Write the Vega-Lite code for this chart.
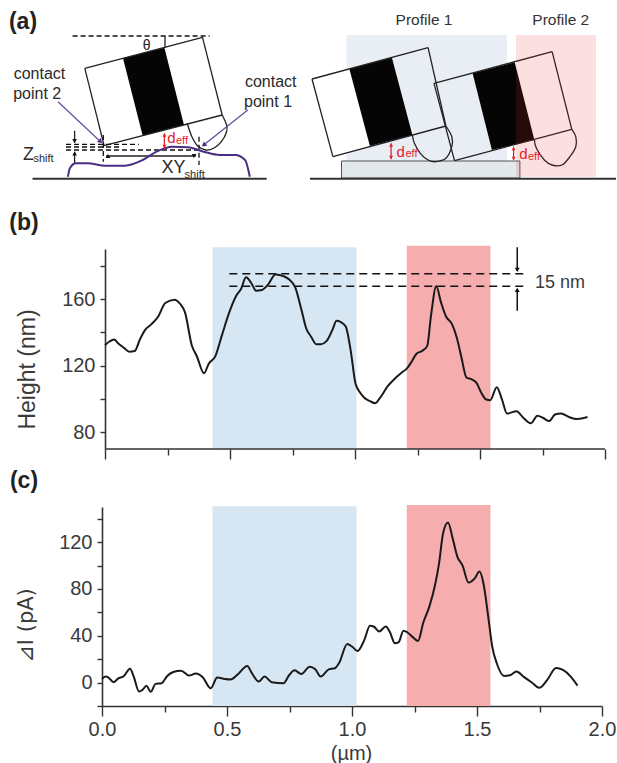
{
"$schema":"https://vega.github.io/schema/vega-lite/v6.json",
"padding":{"left":8,"top":0,"right":0,"bottom":0},
"background":"white",
"config":{"view":{"stroke":null},"font":"Liberation Sans","text":{"font":"Liberation Sans"}},
"bounds":"flush",
"spacing":58,
"datasets":{
"height":[{"x":0,"y":132.3},{"x":0.018,"y":134.5},{"x":0.037,"y":135.7},{"x":0.052,"y":133.5},{"x":0.076,"y":130.7},{"x":0.097,"y":128.4},{"x":0.119,"y":128.8},{"x":0.139,"y":135.5},{"x":0.16,"y":141.3},{"x":0.186,"y":144.9},{"x":0.213,"y":149.5},{"x":0.241,"y":157.6},{"x":0.278,"y":159.6},{"x":0.301,"y":157},{"x":0.32,"y":152},{"x":0.347,"y":132.3},{"x":0.367,"y":125.8},{"x":0.396,"y":115.4},{"x":0.415,"y":121.2},{"x":0.441,"y":125.6},{"x":0.467,"y":137.9},{"x":0.497,"y":152},{"x":0.525,"y":162},{"x":0.544,"y":166},{"x":0.564,"y":173},{"x":0.585,"y":169.6},{"x":0.604,"y":165},{"x":0.627,"y":165.4},{"x":0.651,"y":168.4},{"x":0.682,"y":174.7},{"x":0.714,"y":173.7},{"x":0.737,"y":171.7},{"x":0.761,"y":167},{"x":0.785,"y":154},{"x":0.805,"y":142.3},{"x":0.824,"y":137.5},{"x":0.845,"y":132.9},{"x":0.863,"y":132.9},{"x":0.887,"y":134.9},{"x":0.911,"y":141.9},{"x":0.926,"y":146.9},{"x":0.942,"y":146.3},{"x":0.963,"y":143.5},{"x":0.982,"y":129.8},{"x":1.002,"y":109.3},{"x":1.021,"y":103.7},{"x":1.037,"y":100.7},{"x":1.06,"y":98.7},{"x":1.081,"y":97.5},{"x":1.1,"y":100.7},{"x":1.131,"y":107.7},{"x":1.163,"y":112.8},{"x":1.186,"y":115.8},{"x":1.207,"y":118.2},{"x":1.226,"y":122.2},{"x":1.246,"y":127.2},{"x":1.268,"y":128.8},{"x":1.289,"y":131.9},{"x":1.304,"y":150},{"x":1.325,"y":167.6},{"x":1.344,"y":158},{"x":1.364,"y":149.5},{"x":1.388,"y":144.9},{"x":1.407,"y":136.9},{"x":1.426,"y":124.8},{"x":1.446,"y":112.8},{"x":1.467,"y":111.8},{"x":1.486,"y":109.7},{"x":1.504,"y":104.1},{"x":1.525,"y":99.7},{"x":1.541,"y":99.3},{"x":1.567,"y":107.1},{"x":1.588,"y":99.7},{"x":1.608,"y":91.3},{"x":1.646,"y":92.7},{"x":1.674,"y":88.6},{"x":1.703,"y":85.4},{"x":1.73,"y":90},{"x":1.753,"y":88.6},{"x":1.777,"y":86.8},{"x":1.8,"y":90.7},{"x":1.824,"y":91.3},{"x":1.856,"y":89.2},{"x":1.887,"y":88},{"x":1.911,"y":88.4},{"x":1.93,"y":89.2}],
"current":[{"x":0,"y":3.1},{"x":0.014,"y":5.1},{"x":0.025,"y":4.5},{"x":0.046,"y":0.3},{"x":0.064,"y":3.4},{"x":0.088,"y":5.7},{"x":0.112,"y":11.9},{"x":0.127,"y":5.1},{"x":0.148,"y":-7.7},{"x":0.162,"y":-6.2},{"x":0.178,"y":-2.8},{"x":0.195,"y":-7.9},{"x":0.214,"y":-1.1},{"x":0.238,"y":-0.6},{"x":0.261,"y":5.7},{"x":0.285,"y":9.1},{"x":0.316,"y":10.2},{"x":0.348,"y":6},{"x":0.375,"y":7.7},{"x":0.403,"y":4.5},{"x":0.435,"y":-4.8},{"x":0.461,"y":4.3},{"x":0.49,"y":3.1},{"x":0.513,"y":2.6},{"x":0.545,"y":7.4},{"x":0.581,"y":14.2},{"x":0.6,"y":7.9},{"x":0.627,"y":0.9},{"x":0.65,"y":5.1},{"x":0.679,"y":0.3},{"x":0.726,"y":-0.6},{"x":0.749,"y":6.5},{"x":0.77,"y":10.5},{"x":0.797,"y":7.4},{"x":0.831,"y":13.6},{"x":0.852,"y":11.6},{"x":0.875,"y":5.1},{"x":0.907,"y":11.3},{"x":0.931,"y":12.2},{"x":0.949,"y":17},{"x":0.981,"y":32.9},{"x":1.001,"y":30.6},{"x":1.022,"y":27},{"x":1.049,"y":36.3},{"x":1.072,"y":48.5},{"x":1.088,"y":47.7},{"x":1.109,"y":43.7},{"x":1.135,"y":47.9},{"x":1.151,"y":43.4},{"x":1.172,"y":33.5},{"x":1.186,"y":34.3},{"x":1.206,"y":44.3},{"x":1.222,"y":42.8},{"x":1.246,"y":38.3},{"x":1.264,"y":35.5},{"x":1.285,"y":51.1},{"x":1.309,"y":64.7},{"x":1.332,"y":83.1},{"x":1.348,"y":101.6},{"x":1.364,"y":127.1},{"x":1.384,"y":136.7},{"x":1.403,"y":122.8},{"x":1.422,"y":107.2},{"x":1.442,"y":100.1},{"x":1.466,"y":85.4},{"x":1.49,"y":88.8},{"x":1.51,"y":94.8},{"x":1.526,"y":84.5},{"x":1.545,"y":56.2},{"x":1.561,"y":30.6},{"x":1.579,"y":16.5},{"x":1.608,"y":5.7},{"x":1.631,"y":6.2},{"x":1.658,"y":9.4},{"x":1.686,"y":5.1},{"x":1.718,"y":0.3},{"x":1.749,"y":-4.5},{"x":1.781,"y":2.3},{"x":1.816,"y":12.5},{"x":1.844,"y":10.8},{"x":1.875,"y":5.1},{"x":1.902,"y":-2.6}]
},
"vconcat":[
{
"width":500,"height":191,
"encoding":{
"x":{"field":"x","type":"quantitative","scale":{"domain":[103,603],"nice":false,"zero":false},"axis":null},
"y":{"field":"y","type":"quantitative","scale":{"domain":[191,0],"nice":false,"zero":false},"axis":null}
},
"layer":[
{"data":{"values":[{"x":347.6,"x2":507.9,"y":35,"y2":161}]},"mark":{"type":"rect","color":"#e8eef4"},"encoding":{"x2":{"field":"x2"},"y2":{"field":"y2"}}},
{"data":{"values":[{"x":342.5,"x2":520.9,"y":161,"y2":178}]},"mark":{"type":"rect","fill":"#e3e8ea","stroke":"#555555","strokeWidth":1},"encoding":{"x2":{"field":"x2"},"y2":{"field":"y2"}}},
{"data":{"values":[{"x":313,"y":79,"y2":79},{"x":333.9,"y":73.4,"y2":156.7},{"x":350.4,"y":69,"y2":151.9},{"x":370.9,"y":146,"y2":146}]},"mark":{"type":"area","color":"#ffffff","opacity":1},"encoding":{"y2":{"field":"y2"}}},
{"data":{"values":[{"b":"L","x":124,"y":58.3,"y2":58.3},{"b":"L","x":143.7,"y":53.3,"y2":135.7},{"b":"L","x":165.4,"y":47.7,"y2":130.1},{"b":"L","x":185,"y":125,"y2":125},{"b":"1","x":350.4,"y":69,"y2":69},{"b":"1","x":370.9,"y":63.5,"y2":146},{"b":"1","x":392.9,"y":57.7,"y2":140.3},{"b":"1","x":413.4,"y":135,"y2":135},{"b":"2","x":473.6,"y":73.3,"y2":73.3},{"b":"2","x":492.9,"y":68.3,"y2":150},{"b":"2","x":515.7,"y":62.3,"y2":144.6},{"b":"2","x":535.4,"y":140,"y2":140}]},"mark":{"type":"area","color":"#050505","opacity":1},"encoding":{"y2":{"field":"y2"},"detail":{"field":"b"}}},
{"data":{"values":[
{"x":85.8,"x2":203.5,"y":68.3,"y2":37.3},{"x":203.5,"x2":223.2,"y":37.3,"y2":115},{"x":223.2,"x2":105.1,"y":115,"y2":145.7},{"x":105.1,"x2":85.8,"y":145.7,"y2":68.3},
{"x":313,"x2":429.1,"y":79,"y2":47.7},{"x":429.1,"x2":446.9,"y":47.7,"y2":126},{"x":446.9,"x2":333.9,"y":126,"y2":156.7},{"x":333.9,"x2":313,"y":156.7,"y2":79},
{"x":435,"x2":553.1,"y":83.3,"y2":51.7},{"x":553.1,"x2":572.8,"y":51.7,"y2":129.3},{"x":572.8,"x2":455.5,"y":129.3,"y2":160.7},{"x":455.5,"x2":435,"y":160.7,"y2":83.3},
{"x":166,"x2":166,"y":36,"y2":47.7},
{"x":75.6,"x2":75.6,"y":130.7,"y2":143},{"x":75.6,"x2":75.6,"y":151.7,"y2":163.3},{"x":107,"x2":196.9,"y":156,"y2":156}
]},"mark":{"type":"rule","color":"#222222","strokeWidth":1.3},"encoding":{"x2":{"field":"x2"},"y2":{"field":"y2"}}},
{"data":{"values":[
{"t":"L","i":0,"x":188.2,"y":123.3},{"t":"L","i":1,"x":192.9,"y":136.7},{"t":"L","i":2,"x":198.8,"y":146},{"t":"L","i":3,"x":206.7,"y":150},{"t":"L","i":4,"x":214.6,"y":148.3},{"t":"L","i":5,"x":222.4,"y":141.7},{"t":"L","i":6,"x":227.6,"y":131.7},{"t":"L","i":7,"x":227.6,"y":125},{"t":"L","i":8,"x":223.2,"y":115},
{"t":"1","i":0,"x":413.4,"y":135},{"t":"1","i":1,"x":415.4,"y":143.3},{"t":"1","i":2,"x":421.3,"y":153.3},{"t":"1","i":3,"x":429.1,"y":160},{"t":"1","i":4,"x":437,"y":161.7},{"t":"1","i":5,"x":446.9,"y":158.3},{"t":"1","i":6,"x":452.8,"y":146.7},{"t":"1","i":7,"x":452.8,"y":136.7},{"t":"1","i":8,"x":446.9,"y":126},
{"t":"2","i":0,"x":535.4,"y":140},{"t":"2","i":1,"x":537.4,"y":148.3},{"t":"2","i":2,"x":545.3,"y":160},{"t":"2","i":3,"x":553.1,"y":165},{"t":"2","i":4,"x":563,"y":165},{"t":"2","i":5,"x":570.9,"y":156.7},{"t":"2","i":6,"x":576.8,"y":146.7},{"t":"2","i":7,"x":576.8,"y":136.7},{"t":"2","i":8,"x":572.8,"y":129.3}
]},"mark":{"type":"line","color":"#222222","strokeWidth":1.3,"interpolate":"cardinal"},"encoding":{"detail":{"field":"t"},"order":{"field":"i"}}},
{"data":{"values":[{"x":73.6,"x2":210.6,"y":36,"y2":36},{"x":67,"x2":139.8,"y":144.3,"y2":144.3},{"x":67,"x2":198.8,"y":150,"y2":150},{"x":67,"x2":120,"y":147,"y2":147},{"x":104.3,"x2":104.3,"y":135,"y2":161.7},{"x":200,"x2":200,"y":136.7,"y2":165}]},"mark":{"type":"rule","color":"#111111","strokeWidth":1.3,"strokeDash":[5,3]},"encoding":{"x2":{"field":"x2"},"y2":{"field":"y2"}}},
{"data":{"values":[{"x":33.5,"x2":267.7,"y":178.7,"y2":178.7},{"x":311,"x2":617,"y":178.7,"y2":178.7}]},"mark":{"type":"rule","color":"#333333","strokeWidth":2},"encoding":{"x2":{"field":"x2"},"y2":{"field":"y2"}}},
{"data":{"values":[{"i":0,"x":68.9,"y":176.7},{"i":1,"x":70.9,"y":168.3},{"i":2,"x":76.8,"y":163.3},{"i":3,"x":88.6,"y":163.3},{"i":4,"x":106.3,"y":165.7},{"i":5,"x":126,"y":165.7},{"i":6,"x":143.7,"y":160},{"i":7,"x":157.5,"y":151.7},{"i":8,"x":173.2,"y":146.7},{"i":9,"x":189,"y":147.3},{"i":10,"x":204.7,"y":151.7},{"i":11,"x":220.5,"y":155},{"i":12,"x":236.2,"y":155},{"i":13,"x":246.1,"y":160},{"i":14,"x":250.8,"y":176.7}]},"mark":{"type":"line","color":"#4b2e83","strokeWidth":2,"interpolate":"monotone"},"encoding":{"order":{"field":"i"}}},
{"data":{"values":[{"x":59,"x2":101.6,"y":101.7,"y2":141.7},{"x":248.8,"x2":204.7,"y":110,"y2":145}]},"mark":{"type":"rule","color":"#6a4fa0","strokeWidth":1.3},"encoding":{"x2":{"field":"x2"},"y2":{"field":"y2"}}},
{"data":{"values":[{"x":101.6,"y":141.7}]},"mark":{"type":"point","shape":"triangle-up","angle":133,"filled":true,"size":30,"color":"#4b2e83","opacity":1}},
{"data":{"values":[{"x":204.7,"y":145}]},"mark":{"type":"point","shape":"triangle-up","angle":231,"filled":true,"size":30,"color":"#4b2e83","opacity":1}},
{"data":{"values":[{"x":165.4,"x2":165.4,"y":133.3,"y2":148.3},{"x":392.1,"x2":392.1,"y":143.3,"y2":159.3},{"x":514.6,"x2":514.6,"y":146.7,"y2":160}]},"mark":{"type":"rule","color":"#e8202a","strokeWidth":1.3},"encoding":{"x2":{"field":"x2"},"y2":{"field":"y2"}}},
{"data":{"values":[{"x":165.4,"y":135,"d":"up"},{"x":165.4,"y":146.5,"d":"down"},{"x":392.1,"y":145,"d":"up"},{"x":392.1,"y":157.5,"d":"down"},{"x":514.6,"y":148.5,"d":"up"},{"x":514.6,"y":158.5,"d":"down"}]},"mark":{"type":"point","filled":true,"size":16,"color":"#e8202a","opacity":1},"encoding":{"shape":{"field":"d","type":"nominal","scale":{"domain":["up","down"],"range":["triangle-up","triangle-down"]},"legend":null}}},
{"data":{"values":[{"x":75.6,"y":141,"d":"down"},{"x":75.6,"y":153.5,"d":"up"},{"x":109,"y":156,"d":"left"},{"x":195,"y":156,"d":"right"}]},"mark":{"type":"point","filled":true,"size":22,"color":"#111111","opacity":1},"encoding":{"shape":{"field":"d","type":"nominal","scale":{"domain":["up","down","left","right"],"range":["triangle-up","triangle-down","triangle-left","triangle-right"]},"legend":null}}},
{"data":{"values":[{"x":172.4,"y":138.3,"t":"d"},{"x":401.6,"y":151.7,"t":"d"},{"x":524.4,"y":154.3,"t":"d"}]},"mark":{"type":"text","fontSize":15,"color":"#e8202a"},"encoding":{"text":{"field":"t"}}},
{"data":{"values":[{"x":183,"y":141,"t":"eff"},{"x":412.5,"y":154.3,"t":"eff"},{"x":535,"y":157,"t":"eff"}]},"mark":{"type":"text","fontSize":11,"color":"#e8202a"},"encoding":{"text":{"field":"t"}}},
{"data":{"values":[{"x":40.5,"y":74,"t":"contact"},{"x":38.2,"y":94,"t":"point 2"},{"x":271.7,"y":82.3,"t":"contact"},{"x":269,"y":102.3,"t":"point 1"}]},"mark":{"type":"text","fontSize":16,"color":"#2a2a2a"},"encoding":{"text":{"field":"t"}}},
{"data":{"values":[{"x":425,"y":20,"t":"Profile 1"},{"x":561.8,"y":20,"t":"Profile 2"}]},"mark":{"type":"text","fontSize":15.5,"color":"#333333"},"encoding":{"text":{"field":"t"}}},
{"data":{"values":[{"x":29.5,"y":155,"t":"Z"},{"x":174.4,"y":168.3,"t":"XY"}]},"mark":{"type":"text","fontSize":18,"color":"#2a2a2a"},"encoding":{"text":{"field":"t"}}},
{"data":{"values":[{"x":44.5,"y":158.5,"t":"shift"},{"x":195.7,"y":174.5,"t":"shift"}]},"mark":{"type":"text","fontSize":11,"color":"#2a2a2a"},"encoding":{"text":{"field":"t"}}},
{"data":{"values":[{"x":147.6,"y":45.7,"t":"θ"}]},"mark":{"type":"text","fontSize":14,"color":"#222222"},"encoding":{"text":{"field":"t"}}},
{"data":{"values":[{"x":24,"y":22,"t":"(a)"}]},"mark":{"type":"text","fontSize":23,"fontWeight":"bold","color":"#222222"},"encoding":{"text":{"field":"t"}}},
{"data":{"values":[{"x":517,"x2":597,"y":35,"y2":176.7}]},"mark":{"type":"rect","color":"#e03030","opacity":0.15},"encoding":{"x2":{"field":"x2"},"y2":{"field":"y2"}}}
]
},
{
"width":503,"height":200,
"encoding":{
"x":{"field":"x","type":"quantitative","scale":{"domain":[-0.012,2],"nice":false,"zero":false},
 "axis":{"values":[0,0.25,0.5,0.75,1,1.25,1.5,1.75,2],"labels":false,"title":null,"domain":false,"tickColor":"#333333","tickWidth":1.4,"tickSize":{"expr":"datum.value % 0.5 === 0 ? 10 : 6"},"grid":false}},
"y":{"field":"y","type":"quantitative","scale":{"domain":[70,190],"nice":false,"zero":false},
 "axis":{"offset":-3,"values":[80,100,120,140,160,180],"labelExpr":"datum.value % 40 === 0 ? datum.label : ''","title":"Height (nm)","titleFontSize":23,"titleFontWeight":"normal","titleColor":"#3a3a3a","titleAngle":-90,"titleX":-66,"titleY":120,"labelFontSize":20,"labelColor":"#3a3a3a","labelPadding":5,"domainColor":"#333333","domainWidth":1.6,"tickColor":"#333333","tickWidth":1.4,"tickSize":5,"grid":false}}
},
"layer":[
{"data":{"values":[{"x":0.43,"x2":1.006,"y":70,"y2":191}]},"mark":{"type":"rect","color":"#d6e6f3"},"encoding":{"x2":{"field":"x2"},"y2":{"field":"y2"}}},
{"data":{"values":[{"x":1.207,"x2":1.542,"y":70,"y2":192}]},"mark":{"type":"rect","color":"#f6adad"},"encoding":{"x2":{"field":"x2"},"y2":{"field":"y2"}}},
{"data":{"values":[{"x":0,"x2":2,"y":70}]},"mark":{"type":"rule","color":"#333333","strokeWidth":1.6},"encoding":{"x2":{"field":"x2"}}},
{"data":{"values":[{"x":0.497,"x2":1.674,"y":175.1},{"x":0.497,"x2":1.674,"y":167.6}]},"mark":{"type":"rule","color":"#111111","strokeWidth":1.5,"strokeDash":[8,5]},"encoding":{"x2":{"field":"x2"}}},
{"data":{"values":[{"x":1.649,"y":191,"y2":177},{"x":1.649,"y":166,"y2":153}]},"mark":{"type":"rule","color":"#111111","strokeWidth":1.5},"encoding":{"y2":{"field":"y2"}}},
{"data":{"values":[{"x":1.649,"y":177.5,"d":"down"},{"x":1.649,"y":165.5,"d":"up"}]},"mark":{"type":"point","filled":true,"size":25,"color":"#111111","opacity":1},"encoding":{"shape":{"field":"d","type":"nominal","scale":{"domain":["up","down"],"range":["triangle-up","triangle-down"]},"legend":null}}},
{"data":{"name":"height"},"mark":{"type":"line","color":"#1a1a1a","strokeWidth":2,"interpolate":"monotone"}},
{"data":{"values":[{"x":1.82,"y":169.7,"t":"15 nm"}]},"mark":{"type":"text","fontSize":18,"color":"#3a3a3a"},"encoding":{"text":{"field":"t"}}},
{"data":{"values":[{"x":-0.324,"y":205.8,"t":"(b)"}]},"mark":{"type":"text","fontSize":23,"fontWeight":"bold","color":"#222222"},"encoding":{"text":{"field":"t"}}}
]
},
{
"width":500,"height":199,
"encoding":{
"x":{"field":"x","type":"quantitative","scale":{"domain":[0,2],"nice":false,"zero":false},
 "axis":{"values":[0,0.25,0.5,0.75,1,1.25,1.5,1.75,2],"labelExpr":"datum.value % 0.5 === 0 ? format(datum.value,'.1f') : ''","labelFlush":false,"labelOverlap":false,"labelBound":false,"title":"(µm)","titleFontSize":20,"titleFontWeight":"normal","titleColor":"#3a3a3a","titleX":249,"titleY":37,"labelFontSize":20,"labelColor":"#3a3a3a","labelPadding":3,"domainColor":"#333333","domainWidth":1.6,"tickColor":"#333333","tickWidth":1.4,"tickSize":{"expr":"datum.value % 0.5 === 0 ? 10 : 6"},"grid":false}},
"y":{"field":"y","type":"quantitative","scale":{"domain":[-20,150],"nice":false,"zero":false},
 "axis":{"values":[-20,0,20,40,60,80,100,120,140],"labelExpr":"datum.value % 40 === 0 ? datum.label : ''","title":"⊿I (pA)","titleFont":"DejaVu Sans","titleFontSize":21,"titleFontWeight":"normal","titleColor":"#3a3a3a","titleAngle":-90,"titleX":-66,"titleY":118,"labelFontSize":20,"labelColor":"#3a3a3a","labelPadding":5,"domainColor":"#333333","domainWidth":1.6,"tickColor":"#333333","tickWidth":1.4,"tickSize":5,"grid":false}}
},
"layer":[
{"data":{"values":[{"x":0.442,"x2":1.018,"y":-20,"y2":150.6}]},"mark":{"type":"rect","color":"#d6e6f3"},"encoding":{"x2":{"field":"x2"},"y2":{"field":"y2"}}},
{"data":{"values":[{"x":1.219,"x2":1.554,"y":-20,"y2":151.8}]},"mark":{"type":"rect","color":"#f6adad"},"encoding":{"x2":{"field":"x2"},"y2":{"field":"y2"}}},
{"data":{"name":"current"},"mark":{"type":"line","color":"#1a1a1a","strokeWidth":2,"interpolate":"monotone"}},
{"data":{"values":[{"x":-0.312,"y":172.5,"t":"(c)"}]},"mark":{"type":"text","fontSize":23,"fontWeight":"bold","color":"#222222"},"encoding":{"text":{"field":"t"}}}
]
}
]
}
